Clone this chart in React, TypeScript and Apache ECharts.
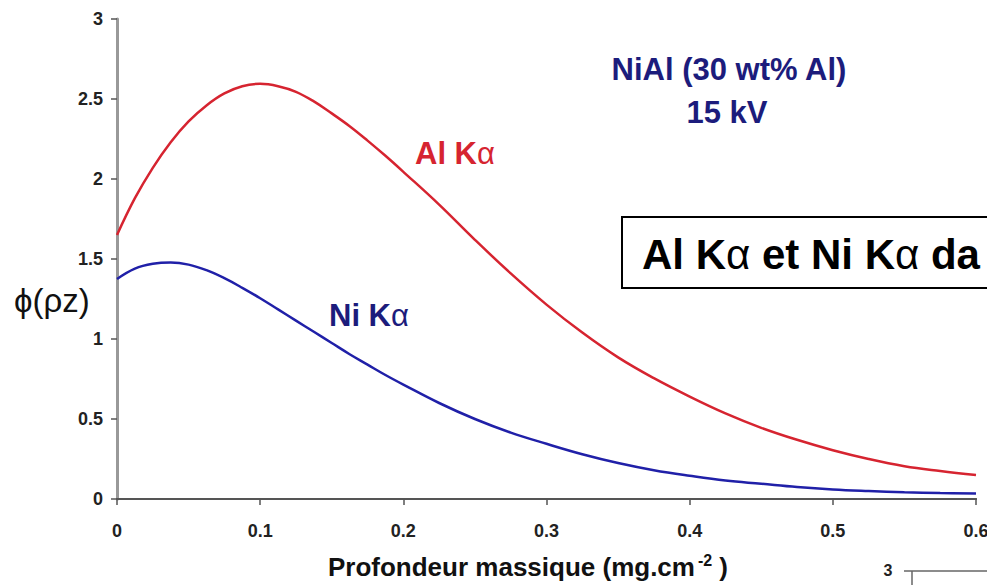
import React, { useEffect, useRef } from "react";
import * as echarts from "echarts";

const depth = [0, 0.0125, 0.025, 0.0375, 0.05, 0.0625, 0.075, 0.0875, 0.1, 0.1125, 0.125, 0.1375, 0.15, 0.1625, 0.175, 0.1875, 0.2, 0.225, 0.25, 0.275, 0.3, 0.325, 0.35, 0.375, 0.4, 0.425, 0.45, 0.475, 0.5, 0.525, 0.55, 0.575, 0.6];
const alKa = [1.65, 1.88, 2.07, 2.23, 2.36, 2.46, 2.535, 2.58, 2.595, 2.58, 2.545, 2.485, 2.41, 2.33, 2.24, 2.145, 2.045, 1.84, 1.62, 1.41, 1.215, 1.04, 0.885, 0.755, 0.64, 0.535, 0.445, 0.37, 0.305, 0.25, 0.205, 0.175, 0.15];
const niKa = [1.375, 1.44, 1.47, 1.478, 1.465, 1.43, 1.38, 1.32, 1.255, 1.185, 1.115, 1.045, 0.975, 0.905, 0.84, 0.775, 0.715, 0.6, 0.5, 0.415, 0.345, 0.28, 0.225, 0.18, 0.145, 0.115, 0.095, 0.075, 0.06, 0.05, 0.042, 0.037, 0.035];

const FONT = "'Liberation Sans', Arial, sans-serif";
const RED = "#d62430";
const BLUE = "#2020a8";
const NAVY = "#1c1c7c";

export default function App() {
  const ref = useRef<HTMLDivElement>(null);
  useEffect(() => {
    if (!ref.current) return;
    const chart = echarts.init(ref.current, null, { renderer: "svg" });
    const pairs = (ys: number[]) => depth.map((x, i) => [x, ys[i]]);
    const labelStyle = { fontFamily: FONT, fontWeight: "bold" as const, fontSize: 18, color: "#222" };
    chart.setOption({
      animation: false,
      backgroundColor: "#fff",
      grid: { left: 117, right: 11, top: 19, bottom: 86, containLabel: false, outerBoundsMode: "none" },
      xAxis: [
        {
          type: "value", min: 0, max: 0.6, interval: 0.1,
          axisLine: { show: true, lineStyle: { color: "#555", width: 2 } },
          axisTick: { show: true, inside: false, length: 6, lineStyle: { color: "#555", width: 1.5 } },
          axisLabel: { ...labelStyle, margin: 23, formatter: (v: number) => String(Math.round(v * 10) / 10) },
          splitLine: { show: false },
        },
        {
          type: "value", min: 0, max: 0.6, position: "top",
          axisLine: { show: true, lineStyle: { color: "#555", width: 2 } },
          axisTick: { show: false }, axisLabel: { show: false }, splitLine: { show: false },
        },
      ],
      yAxis: [
        {
          type: "value", min: 0, max: 3, interval: 0.5,
          axisLine: { show: true, lineStyle: { color: "#555", width: 2 } },
          axisTick: { show: true, inside: false, length: 6, lineStyle: { color: "#555", width: 1.5 } },
          axisLabel: { ...labelStyle, margin: 14 },
          splitLine: { show: false },
        },
        {
          type: "value", min: 0, max: 3, position: "right",
          axisLine: { show: true, lineStyle: { color: "#999", width: 3 } },
          axisTick: { show: false }, axisLabel: { show: false }, splitLine: { show: false },
        },
      ],
      series: [
        { name: "Al Kα", type: "line", data: pairs(alKa), smooth: 0.4, showSymbol: false, lineStyle: { color: RED, width: 2.5 }, z: 3 },
        { name: "Ni Kα", type: "line", data: pairs(niKa), smooth: 0.4, showSymbol: false, lineStyle: { color: BLUE, width: 2.5 }, z: 3 },
      ],
      graphic: [
        {
          type: "text", x: 14, y: 300, z: 100,
          style: { text: "ϕ(ρz)", verticalAlign: "middle", font: `33px ${FONT}`, fill: "#111" },
        },
        {
          type: "text", x: 528, y: 567, z: 100,
          style: {
            text: "{a|Profondeur massique (mg.cm}{b|-2}{a| )}",
            align: "center", verticalAlign: "middle",
            rich: {
              a: { fontFamily: FONT, fontWeight: "bold", fontSize: 26, fill: "#111" },
              b: { fontFamily: FONT, fontWeight: "bold", fontSize: 16, fill: "#111", padding: [0, 0, 14, 3] },
            },
          },
        },
        {
          type: "text", x: 729, y: 69, z: 100,
          style: { text: "NiAl (30 wt% Al)", align: "center", verticalAlign: "middle", font: `bold 31px ${FONT}`, fill: NAVY },
        },
        {
          type: "text", x: 727, y: 112, z: 100,
          style: { text: "15 kV", align: "center", verticalAlign: "middle", font: `bold 31px ${FONT}`, fill: NAVY },
        },
        {
          type: "text", x: 415, y: 153, z: 100,
          style: {
            text: "{a|Al K}{b|α}", verticalAlign: "middle",
            rich: {
              a: { fontFamily: FONT, fontWeight: "bold", fontSize: 31, fill: RED },
              b: { fontFamily: FONT, fontWeight: "normal", fontSize: 31, fill: RED },
            },
          },
        },
        {
          type: "text", x: 329, y: 315, z: 100,
          style: {
            text: "{a|Ni K}{b|α}", verticalAlign: "middle",
            rich: {
              a: { fontFamily: FONT, fontWeight: "bold", fontSize: 31, fill: NAVY },
              b: { fontFamily: FONT, fontWeight: "normal", fontSize: 31, fill: NAVY },
            },
          },
        },
        {
          type: "rect", z: 100,
          shape: { x: 622, y: 217, width: 420, height: 71 },
          style: { fill: "#fff", stroke: "#000", lineWidth: 2 },
        },
        {
          type: "text", x: 642, y: 254, z: 101,
          style: {
            text: "{a|Al K}{b|α}{a| et Ni K}{b|α}{a| da}", verticalAlign: "middle",
            rich: {
              a: { fontFamily: FONT, fontWeight: "bold", fontSize: 42, fill: "#000" },
              b: { fontFamily: FONT, fontWeight: "normal", fontSize: 42, fill: "#000" },
            },
          },
        },
        {
          type: "text", x: 888, y: 570, z: 100,
          style: { text: "3", align: "center", verticalAlign: "middle", font: `bold 16px ${FONT}`, fill: "#222" },
        },
        {
          type: "line", z: 100,
          shape: { x1: 904, y1: 571, x2: 987, y2: 571 },
          style: { stroke: "#666", lineWidth: 1.5 },
        },
        {
          type: "line", z: 100,
          shape: { x1: 912, y1: 571, x2: 912, y2: 585 },
          style: { stroke: "#666", lineWidth: 1.5 },
        },
      ],
    });
    return () => chart.dispose();
  }, []);
  return <div ref={ref} style={{ position: "absolute", left: 0, top: 0, width: 987, height: 585 }} />;
}
